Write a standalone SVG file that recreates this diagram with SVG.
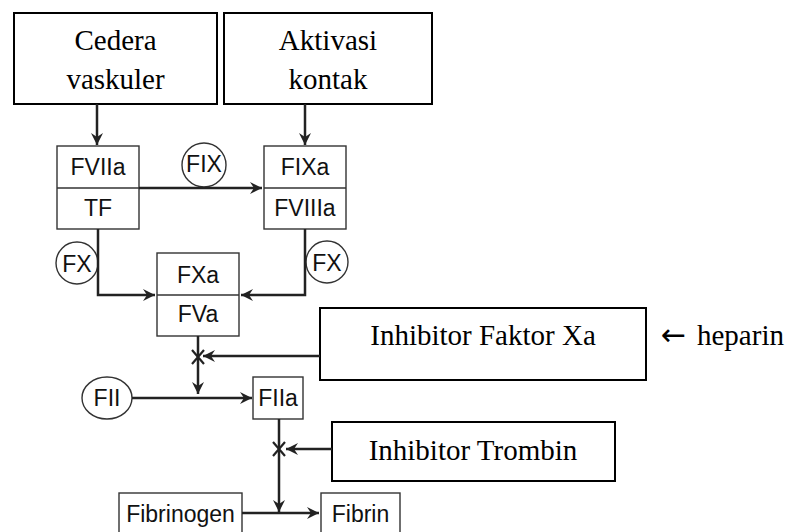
<svg xmlns="http://www.w3.org/2000/svg" width="785" height="532" viewBox="0 0 785 532">
<style>
.bigbox{fill:#fff;stroke:#000;stroke-width:2}
.box{fill:#fff;stroke:#333;stroke-width:1.4}
.div{stroke:#333;stroke-width:1.4}
.serif{font-family:"Liberation Serif","Times New Roman",serif;font-size:29px;fill:#000}
.sans{font-family:"Liberation Sans",Arial,sans-serif;font-size:23px;fill:#111}
.mid{text-anchor:middle}
.line{fill:none;stroke:#222;stroke-width:2.5}
.arr{marker-end:url(#ah)}
.xm{stroke:#222;stroke-width:2.2}
</style>
<defs>
<marker id="ah" markerUnits="userSpaceOnUse" markerWidth="14" markerHeight="14" refX="12" refY="6" orient="auto">
<path d="M0,0 L12,6 L0,12 L4,6 z" fill="#222"/>
</marker>
</defs>
<g id="cedera">
<rect class="bigbox" x="14" y="13" width="203" height="91"/>
<text class="serif mid" x="115.5" y="50">Cedera</text>
<text class="serif mid" x="115.5" y="89">vaskuler</text>
</g>
<g id="aktivasi">
<rect class="bigbox" x="224" y="13" width="208" height="91"/>
<text class="serif mid" x="328" y="50">Aktivasi</text>
<text class="serif mid" x="328" y="89">kontak</text>
</g>
<g id="fviia-tf">
<rect class="box" x="57" y="146" width="82" height="83"/>
<line class="div" x1="57" y1="188" x2="139" y2="188"/>
<text class="sans mid" x="98" y="175">FVIIa</text>
<text class="sans mid" x="98" y="216">TF</text>
</g>
<g id="fixa-fviiia">
<rect class="box" x="264" y="146" width="82" height="83"/>
<line class="div" x1="264" y1="188" x2="346" y2="188"/>
<text class="sans mid" x="305" y="175">FIXa</text>
<text class="sans mid" x="305" y="216">FVIIIa</text>
</g>
<g id="fix">
<circle class="box" cx="204" cy="165" r="22"/>
<text class="sans mid" x="204" y="172">FIX</text>
</g>
<g id="fx-left">
<circle class="box" cx="77" cy="263" r="21"/>
<text class="sans mid" x="77" y="272">FX</text>
</g>
<g id="fx-right">
<circle class="box" cx="327" cy="262" r="21"/>
<text class="sans mid" x="327" y="271">FX</text>
</g>
<g id="fxa-fva">
<rect class="box" x="157" y="253" width="82" height="83"/>
<line class="div" x1="157" y1="295" x2="239" y2="295"/>
<text class="sans mid" x="198" y="283">FXa</text>
<text class="sans mid" x="198" y="322">FVa</text>
</g>
<g id="inhibitor-xa">
<rect class="bigbox" x="320" y="308" width="326" height="72"/>
<text class="serif mid" x="483" y="345">Inhibitor Faktor Xa</text>
</g>
<g id="heparin">
<text class="serif" x="661" y="345"><tspan style="font-family:'DejaVu Sans',sans-serif;font-size:30px">←</tspan><tspan x="697">heparin</tspan></text>
</g>
<g id="fii">
<ellipse class="box" cx="107" cy="398" rx="25" ry="21"/>
<text class="sans mid" x="107" y="406">FII</text>
</g>
<g id="fiia">
<rect class="box" x="253" y="377" width="50" height="42"/>
<text class="sans mid" x="278" y="406">FIIa</text>
</g>
<g id="inhibitor-trombin">
<rect class="bigbox" x="332" y="422" width="283" height="59"/>
<text class="serif mid" x="473" y="460">Inhibitor Trombin</text>
</g>
<g id="fibrinogen">
<rect class="box" x="119" y="493" width="123" height="45"/>
<text class="sans mid" x="180.5" y="522">Fibrinogen</text>
</g>
<g id="fibrin">
<rect class="box" x="321" y="493" width="79" height="45"/>
<text class="sans mid" x="360.5" y="522">Fibrin</text>
</g>
<g id="connectors">
<path class="line arr" d="M97,104 V145"/>
<path class="line arr" d="M305,104 V145"/>
<path class="line arr" d="M139,188 H262"/>
<path class="line arr" d="M98,229 V295 H155"/>
<path class="line arr" d="M305,229 V295 H241"/>
<path class="line arr" d="M198,336 V394"/>
<path class="line arr" d="M320,356 H203"/>
<path class="line arr" d="M132,398 H252"/>
<path class="line arr" d="M279,419 V512"/>
<path class="line arr" d="M332,449 H286"/>
<path class="line arr" d="M242,513 H319"/>
<path class="xm" d="M192,350 L204,364 M204,350 L192,364"/>
<path class="xm" d="M273,442 L285,456 M285,442 L273,456"/>
</g>
</svg>
